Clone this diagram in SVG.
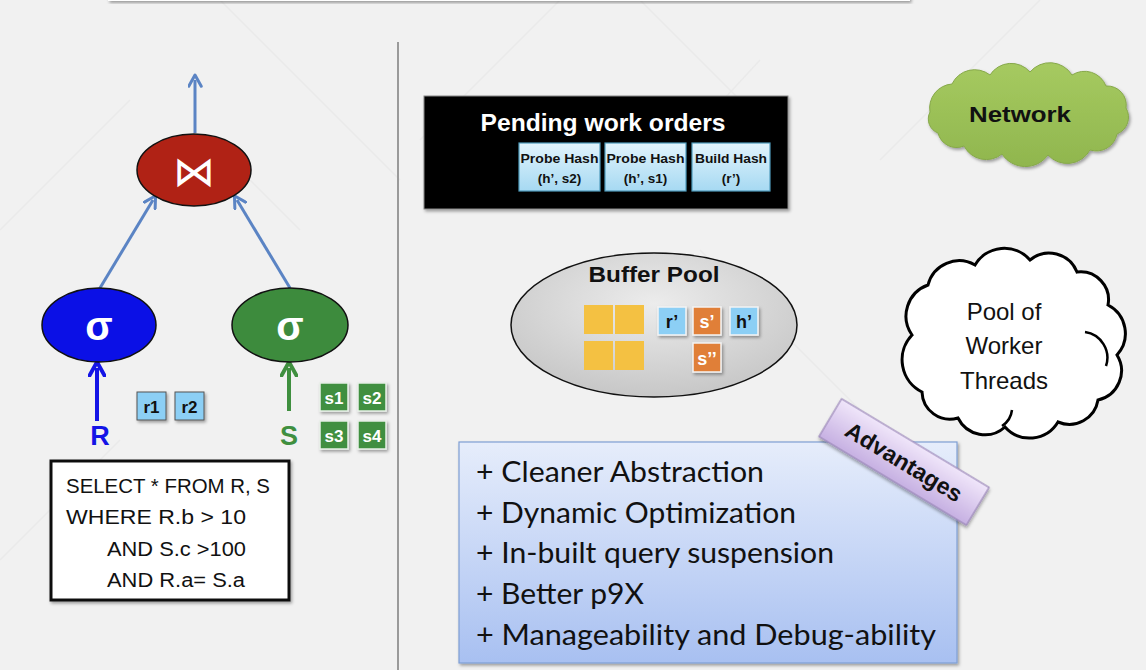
<svg xmlns="http://www.w3.org/2000/svg" width="1146" height="670" viewBox="0 0 1146 670">
  <defs>
    <style>
      .sans { font-family: "Liberation Sans", "DejaVu Sans", sans-serif; }
      .bold { font-weight: bold; }
      .edge { stroke: #5b84c4; stroke-width: 3; fill: none; }
      .tile { stroke: #555; stroke-width: 1; }
      .gtile { fill: #3f8f3f; stroke: #e8f0e8; stroke-width: 1.5; }
      .ytile { fill: #f4c142; }
      .bptile { fill: #8ccff5; stroke: #f4f4f4; stroke-width: 1.5; }
      .optile { fill: #e07f38; stroke: #f4f4f4; stroke-width: 1.5; }
      .wo { fill: url(#woFill); stroke: #4f9cbc; stroke-width: 1.2; }
      .bg-line { stroke: #eaeaea; stroke-width: 1.5; fill: none; }
    </style>
    <marker id="headBlue" viewBox="0 0 12 12" refX="6" refY="6" markerWidth="5" markerHeight="5" orient="auto">
      <path d="M1,1 L10,6 L1,11" fill="none" stroke="#5b84c4" stroke-width="2.4" stroke-linecap="round" stroke-linejoin="round"/>
    </marker>
    <marker id="headR" viewBox="0 0 12 12" refX="6" refY="6" markerWidth="4.5" markerHeight="4.5" orient="auto">
      <path d="M1,1 L10,6 L1,11" fill="none" stroke="#1414e6" stroke-width="2.6" stroke-linecap="round" stroke-linejoin="round"/>
    </marker>
    <marker id="headS" viewBox="0 0 12 12" refX="6" refY="6" markerWidth="4.5" markerHeight="4.5" orient="auto">
      <path d="M1,1 L10,6 L1,11" fill="none" stroke="#3f8f3f" stroke-width="2.6" stroke-linecap="round" stroke-linejoin="round"/>
    </marker>
    <linearGradient id="woFill" x1="0" y1="0" x2="0" y2="1">
      <stop offset="0" stop-color="#e2f4fc"/>
      <stop offset="1" stop-color="#a6d9f2"/>
    </linearGradient>
    <radialGradient id="poolFill" cx="0.5" cy="0.35" r="0.7">
      <stop offset="0" stop-color="#ececec"/>
      <stop offset="1" stop-color="#c4c4c4"/>
    </radialGradient>
    <linearGradient id="advFill" x1="0" y1="0" x2="0" y2="1">
      <stop offset="0" stop-color="#e6edfb"/>
      <stop offset="1" stop-color="#a8c0f1"/>
    </linearGradient>
    <linearGradient id="tagFill" x1="0" y1="0" x2="0" y2="1">
      <stop offset="0" stop-color="#f0e6fa"/>
      <stop offset="1" stop-color="#c6b0e2"/>
    </linearGradient>
    <linearGradient id="netFill" x1="0" y1="0" x2="0" y2="1">
      <stop offset="0" stop-color="#a6ca60"/>
      <stop offset="1" stop-color="#90b64e"/>
    </linearGradient>
    <filter id="shadow" x="-10%" y="-10%" width="130%" height="130%">
      <feDropShadow dx="1.5" dy="2" stdDeviation="1.5" flood-color="#000" flood-opacity="0.35"/>
    </filter>
  </defs>

  <!-- page background with faint pattern -->
  <rect x="0" y="0" width="1146" height="670" fill="#f1f1f1"/>
  <g id="backdrop">
    <path class="bg-line" d="M0,230 L130,100 M220,0 L400,180 M300,230 L240,170 M560,0 L420,140 M640,0 L790,150 M1040,0 L880,160 M700,250 L900,450 M0,560 L120,440 M760,60 L640,190"/>
    <rect x="108" y="-12" width="802" height="13" fill="#ffffff" filter="url(#shadow)"/>
  </g>

  <!-- divider between plan and runtime -->
  <line x1="398" y1="42" x2="398" y2="670" stroke="#9a9a9a" stroke-width="2"/>

  <!-- query plan edges -->
  <g id="connectors">
    <line class="edge" x1="195" y1="133" x2="195" y2="80" marker-end="url(#headBlue)"/>
    <line class="edge" x1="100" y1="288" x2="153" y2="200" marker-end="url(#headBlue)"/>
    <line class="edge" x1="290" y1="288" x2="237" y2="200" marker-end="url(#headBlue)"/>
    <line x1="97" y1="421" x2="97" y2="368" stroke="#1414e6" stroke-width="4" marker-end="url(#headR)"/>
    <line x1="289" y1="411" x2="289" y2="368" stroke="#3f8f3f" stroke-width="4" marker-end="url(#headS)"/>
  </g>

  <g id="join">
    <ellipse cx="194" cy="170" rx="57" ry="36" fill="#b02215" stroke="#111" stroke-width="1.5"/>
    <text x="194" y="186" text-anchor="middle" font-family="DejaVu Sans, sans-serif" font-size="42" fill="#ffffff">⋈</text>
  </g>

  <g id="selectR">
    <ellipse cx="99" cy="325" rx="57" ry="37" fill="#0b10e6" stroke="#111" stroke-width="1.5"/>
    <text x="99" y="340" text-anchor="middle" class="sans bold" font-size="40" fill="#ffffff">σ</text>
  </g>

  <g id="selectS">
    <ellipse cx="290" cy="325" rx="58" ry="37" fill="#3d8b3d" stroke="#111" stroke-width="1.5"/>
    <text x="290" y="340" text-anchor="middle" class="sans bold" font-size="40" fill="#ffffff">σ</text>
  </g>

  <g id="relR">
    <text x="100" y="445" text-anchor="middle" class="sans bold" font-size="27" fill="#1414e6">R</text>
    <rect class="tile" x="137" y="392" width="29" height="28" fill="#8ccff5" filter="url(#shadow)"/>
    <text x="151.5" y="413" text-anchor="middle" class="sans bold" font-size="17" fill="#111">r1</text>
    <rect class="tile" x="175" y="392" width="29" height="28" fill="#8ccff5" filter="url(#shadow)"/>
    <text x="189.5" y="413" text-anchor="middle" class="sans bold" font-size="17" fill="#111">r2</text>
  </g>

  <g id="relS">
    <text x="289" y="445" text-anchor="middle" class="sans bold" font-size="27" fill="#3f8f3f">S</text>
    <rect class="gtile" x="320" y="383" width="28" height="28" filter="url(#shadow)"/>
    <text x="334" y="404" text-anchor="middle" class="sans bold" font-size="17" fill="#ffffff">s1</text>
    <rect class="gtile" x="358" y="383" width="28" height="28" filter="url(#shadow)"/>
    <text x="372" y="404" text-anchor="middle" class="sans bold" font-size="17" fill="#ffffff">s2</text>
    <rect class="gtile" x="320" y="421" width="28" height="28" filter="url(#shadow)"/>
    <text x="334" y="442" text-anchor="middle" class="sans bold" font-size="17" fill="#ffffff">s3</text>
    <rect class="gtile" x="358" y="421" width="28" height="28" filter="url(#shadow)"/>
    <text x="372" y="442" text-anchor="middle" class="sans bold" font-size="17" fill="#ffffff">s4</text>
  </g>

  <g id="query">
    <rect x="51" y="461" width="238" height="139" fill="#ffffff" stroke="#111" stroke-width="3" filter="url(#shadow)"/>
    <g class="sans" font-size="20" fill="#111">
      <text x="66" y="493" textLength="204" lengthAdjust="spacingAndGlyphs">SELECT * FROM R, S</text>
      <text x="66" y="524" textLength="180" lengthAdjust="spacingAndGlyphs">WHERE R.b &gt; 10</text>
      <text x="107" y="556" textLength="139" lengthAdjust="spacingAndGlyphs">AND S.c &gt;100</text>
      <text x="107" y="587" textLength="138" lengthAdjust="spacingAndGlyphs">AND R.a= S.a</text>
    </g>
  </g>

  <g id="pendingWork">
    <rect x="424" y="96" width="364" height="113" fill="#000000" stroke="#888" stroke-width="1" filter="url(#shadow)"/>
    <text x="603" y="131" text-anchor="middle" class="sans bold" font-size="24" fill="#ffffff" textLength="245" lengthAdjust="spacingAndGlyphs">Pending work orders</text>
    <rect class="wo" x="519" y="143" width="81" height="48"/>
    <text x="559.5" y="163" text-anchor="middle" class="sans bold" font-size="13.5" fill="#111" textLength="78" lengthAdjust="spacingAndGlyphs">Probe Hash</text>
    <text x="559.5" y="183" text-anchor="middle" class="sans bold" font-size="13.5" fill="#111">(h’, s2)</text>
    <rect class="wo" x="605" y="143" width="81" height="48"/>
    <text x="645.5" y="163" text-anchor="middle" class="sans bold" font-size="13.5" fill="#111" textLength="78" lengthAdjust="spacingAndGlyphs">Probe Hash</text>
    <text x="645.5" y="183" text-anchor="middle" class="sans bold" font-size="13.5" fill="#111">(h’, s1)</text>
    <rect class="wo" x="692" y="143" width="78" height="48"/>
    <text x="731" y="163" text-anchor="middle" class="sans bold" font-size="13.5" fill="#111" textLength="72" lengthAdjust="spacingAndGlyphs">Build Hash</text>
    <text x="731" y="183" text-anchor="middle" class="sans bold" font-size="13.5" fill="#111">(r’)</text>
  </g>

  <g id="bufferPool">
    <ellipse cx="654" cy="325" rx="143" ry="72" fill="url(#poolFill)" stroke="#111" stroke-width="1.5"/>
    <text x="654" y="282" text-anchor="middle" class="sans bold" font-size="22" fill="#111" textLength="131" lengthAdjust="spacingAndGlyphs">Buffer Pool</text>
    <rect class="ytile" x="584" y="305" width="29" height="29"/>
    <rect class="ytile" x="615" y="305" width="29" height="29"/>
    <rect class="ytile" x="584" y="341" width="29" height="29"/>
    <rect class="ytile" x="615" y="341" width="29" height="29"/>
    <rect class="bptile" x="658" y="307" width="28" height="28" filter="url(#shadow)"/>
    <text x="672" y="328" text-anchor="middle" class="sans bold" font-size="18" fill="#111">r’</text>
    <rect class="optile" x="693" y="307" width="28" height="28" filter="url(#shadow)"/>
    <text x="707" y="328" text-anchor="middle" class="sans bold" font-size="18" fill="#ffffff">s’</text>
    <rect class="bptile" x="730" y="307" width="28" height="28" filter="url(#shadow)"/>
    <text x="744" y="328" text-anchor="middle" class="sans bold" font-size="18" fill="#111">h’</text>
    <rect class="optile" x="693" y="343" width="28" height="29" filter="url(#shadow)"/>
    <text x="707" y="365" text-anchor="middle" class="sans bold" font-size="18" fill="#ffffff">s’’</text>
  </g>

  <g id="network">
    <path d="M930,112 A24,24 0 0 1 952,84 A25,25 0 0 1 990,75 A25,25 0 0 1 1030,72 A26,26 0 0 1 1072,75 A23,23 0 0 1 1106,86 A19,19 0 0 1 1126,108 A18,18 0 0 1 1117,134 A21,21 0 0 1 1090,150 A26,26 0 0 1 1048,155 A28,28 0 0 1 1002,154 A25,25 0 0 1 964,146 A19,19 0 0 1 938,133 A15,15 0 0 1 930,112 Z" fill="url(#netFill)" stroke="#86a84a" stroke-width="1" filter="url(#shadow)"/>
    <text x="1020" y="122" text-anchor="middle" class="sans bold" font-size="22" fill="#111" textLength="102" lengthAdjust="spacingAndGlyphs">Network</text>
  </g>

  <g id="workers">
    <path d="M912,335 A33,33 0 0 1 928,285 A32,32 0 0 1 975,265 A34,34 0 0 1 1030,260 A30,30 0 0 1 1077,272 A28,28 0 0 1 1108,305 A32,32 0 0 1 1117,355 A30,30 0 0 1 1098,400 A29,29 0 0 1 1058,422 A33,33 0 0 1 1005,427 A30,30 0 0 1 958,418 A28,28 0 0 1 922,392 A36,36 0 0 1 912,335 Z" fill="#ffffff" stroke="#000" stroke-width="3"/>
    <path d="M1085,332 A26,26 0 0 1 1106,366 M1002,426 A22,22 0 0 0 1012,410" fill="none" stroke="#000" stroke-width="2.5"/>
    <g class="sans" font-size="24" fill="#111" text-anchor="middle">
      <text x="1004" y="320">Pool of</text>
      <text x="1004" y="354">Worker</text>
      <text x="1004" y="389">Threads</text>
    </g>
  </g>

  <g id="advantages">
    <rect x="459" y="442" width="498" height="221" fill="url(#advFill)" stroke="#7f9fd4" stroke-width="1.2" filter="url(#shadow)"/>
    <g font-family="Lato, 'Open Sans', sans-serif" font-size="28" fill="#111">
      <text x="476" y="482" textLength="288" lengthAdjust="spacingAndGlyphs">+ Cleaner Abstraction</text>
      <text x="476" y="523" textLength="320" lengthAdjust="spacingAndGlyphs">+ Dynamic Optimization</text>
      <text x="476" y="563" textLength="358" lengthAdjust="spacingAndGlyphs">+ In-built query suspension</text>
      <text x="476" y="604" textLength="168" lengthAdjust="spacingAndGlyphs">+ Better p9X</text>
      <text x="476" y="645" textLength="460" lengthAdjust="spacingAndGlyphs">+ Manageability and Debug-ability</text>
    </g>
  </g>

  <g id="advantagesTag" transform="translate(904 462) rotate(31)">
    <rect x="-86" y="-22" width="172" height="44" fill="url(#tagFill)" stroke="#9a86b8" stroke-width="1.2" filter="url(#shadow)"/>
    <text x="0" y="8" text-anchor="middle" class="sans bold" font-size="23" fill="#111" textLength="132" lengthAdjust="spacingAndGlyphs">Advantages</text>
  </g>
</svg>
